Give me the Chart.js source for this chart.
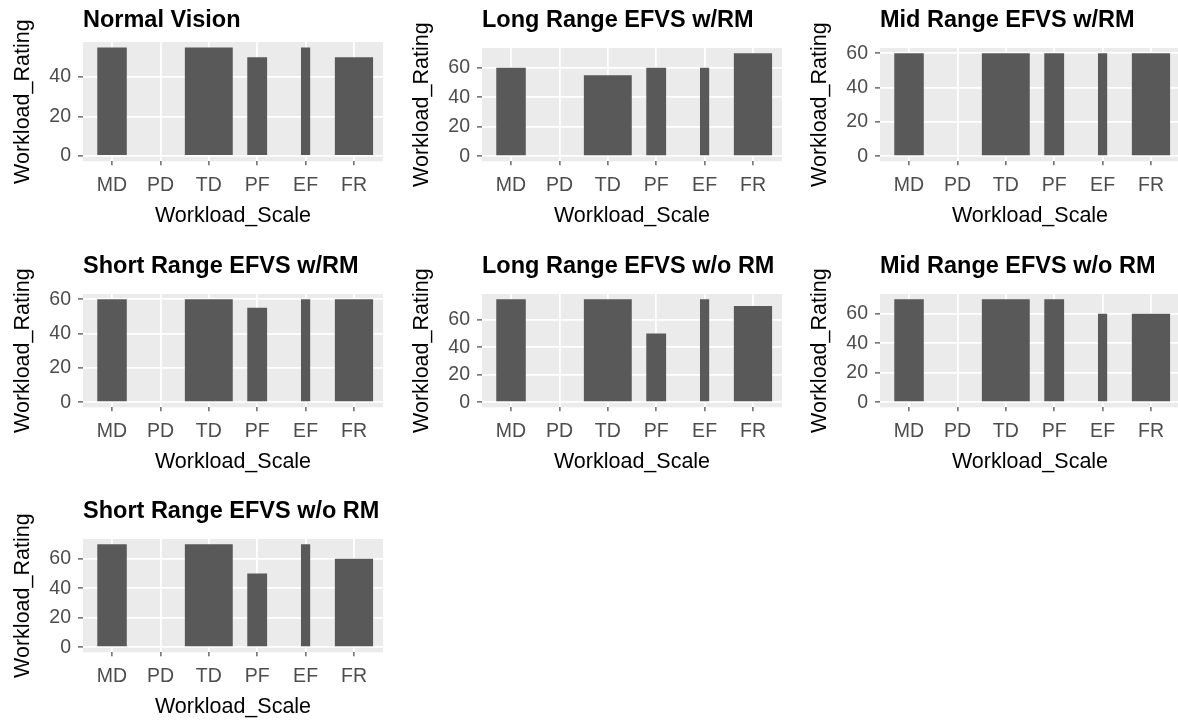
<!DOCTYPE html>
<html>
<head>
<meta charset="utf-8">
<title>Workload ratings</title>
<script src="https://cdn.jsdelivr.net/npm/chart.js@4/dist/chart.umd.min.js"></script>
<style>
  html, body { margin: 0; padding: 0; background: #fff; overflow: hidden; }
  body { width: 1178px; height: 723px; position: relative; }
  canvas { position: absolute; }
</style>
</head>
<body>
<script>
// data
const categories = ['MD', 'PD', 'TD', 'PF', 'EF', 'FR'];
const titles = [
  'Normal Vision', 'Long Range EFVS w/RM', 'Mid Range EFVS w/RM',
  'Short Range EFVS w/RM', 'Long Range EFVS w/o RM', 'Mid Range EFVS w/o RM',
  'Short Range EFVS w/o RM'
];
const normalVision   = [55, null, 55, 50, 55, 50];
const longRangeRM    = [60, null, 55, 60, 60, 70];
const midRangeRM     = [60, null, 60, 60, 60, 60];
const shortRangeRM   = [60, null, 60, 55, 60, 60];
const longRangeNoRM  = [75, null, 75, 50, 75, 70];
const midRangeNoRM   = [70, null, 70, 70, 60, 60];
const shortRangeNoRM = [70, null, 70, 50, 70, 60];
const series = [normalVision, longRangeRM, midRangeRM, shortRangeRM,
                longRangeNoRM, midRangeNoRM, shortRangeNoRM];

// styling / layout
const barWidths = [0.61, 0.5, 0.99, 0.41, 0.19, 0.79]; // share of one category step
const cols = [0, 399, 797];
const rows = [0, 246, 491];
const W = 383, H = 235;
const AXIS_W = 83, PANEL_BOTTOM = 161.3;
const FONT = "'Liberation Sans', Arial, sans-serif";

Chart.defaults.font.family = FONT;

// grey ggplot-like panel behind the grid
const panelBg = {
  id: 'panelBg',
  beforeDraw(chart) {
    const a = chart.chartArea, ctx = chart.ctx;
    ctx.save();
    ctx.fillStyle = '#ebebeb';
    ctx.fillRect(a.left, a.top, a.right - a.left, a.bottom - a.top);
    ctx.restore();
  }
};

function makePanel(i) {
  const values = series[i];
  const canvas = document.createElement('canvas');
  canvas.width = W;
  canvas.height = H;
  canvas.style.left = cols[i % 3] + 'px';
  canvas.style.top = rows[Math.floor(i / 3)] + 'px';
  canvas.style.width = W + 'px';
  canvas.style.height = H + 'px';
  document.body.appendChild(canvas);

  const peak = Math.max(...values.filter(v => v != null));
  const lo = -0.05 * peak, hi = 1.05 * peak;
  // "Normal Vision" has no descender, so its panel sits a bit higher
  const panelTop = i === 0 ? 42 : 48;
  const isMajor = v => v % 20 === 0;

  new Chart(canvas.getContext('2d'), {
    type: 'bar',
    data: {
      datasets: categories.map((c, k) => ({
        label: c,
        data: [{ x: k + 1, y: values[k] }],
        backgroundColor: '#595959',
        borderWidth: 0,
        barPercentage: barWidths[k],
        categoryPercentage: 1,
        grouped: false
      }))
    },
    options: {
      responsive: false,
      animation: false,
      layout: { padding: 0 },
      plugins: {
        legend: { display: false },
        tooltip: { enabled: false },
        title: {
          display: true,
          text: titles[i],
          align: 'start',
          fullSize: false,
          color: '#000',
          font: { size: 23.5, weight: 'bold', lineHeight: 1.2 },
          padding: { top: 6.9, bottom: panelTop - 6.9 - 28.2 }
        }
      },
      scales: {
        x: {
          type: 'linear',
          min: 0.4,
          max: 6.6,
          offset: false,
          afterBuildTicks: s => { s.ticks = categories.map((c, k) => ({ value: k + 1 })); },
          afterFit: s => { s.height = H - PANEL_BOTTOM; },
          ticks: {
            callback: v => categories[v - 1],
            color: '#4d4d4d',
            font: { size: 19.5 },
            padding: 8.5,
            autoSkip: false,
            maxRotation: 0
          },
          grid: { offset: false, color: '#fff', lineWidth: 1.8, tickLength: 4, tickColor: '#333', tickWidth: 1.1 },
          border: { display: false },
          title: {
            display: true, text: 'Workload_Scale', color: '#000',
            font: { size: 21.5, lineHeight: 1.2 }, padding: { top: 0, bottom: 6.1 }
          }
        },
        y: {
          min: lo,
          max: hi,
          afterBuildTicks: s => {
            const t = [];
            for (let v = 0; v <= hi; v += 10) t.push({ value: v });
            s.ticks = t;
          },
          afterFit: s => { s.width = AXIS_W; },
          ticks: {
            callback: v => isMajor(v) ? String(v) : '',
            color: '#4d4d4d',
            font: { size: 19.5 },
            padding: 7
          },
          grid: {
            color: '#fff',
            lineWidth: c => isMajor(c.tick.value) ? 1.8 : 0.9,
            tickLength: 5,
            tickColor: c => isMajor(c.tick.value) ? '#333' : 'rgba(0,0,0,0)',
            tickWidth: 1.1
          },
          border: { display: false },
          title: {
            display: true, text: 'Workload_Rating', color: '#000',
            font: { size: 21.5, lineHeight: 1.2 }, padding: { top: 9.9, bottom: 0 }
          }
        }
      }
    },
    plugins: [panelBg]
  });
}

series.forEach((s, i) => makePanel(i));
</script>
</body>
</html>
